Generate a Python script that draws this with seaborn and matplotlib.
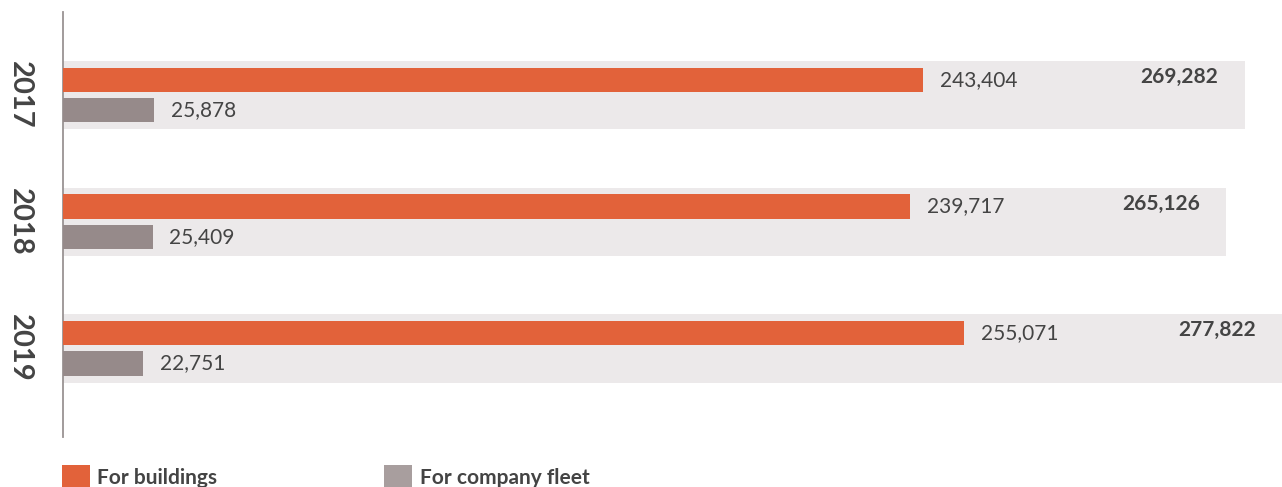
import pandas as pd
import seaborn as sns
import matplotlib.pyplot as plt
from matplotlib.patches import Patch

years = ['2017', '2018', '2019']
buildings = [243404, 239717, 255071]
fleet = [25878, 25409, 22751]
totals = [269282, 265126, 277822]
series = ['For buildings', 'For company fleet']

orange = '#E2623A'
grey = '#968A8A'
grey_legend = '#A89E9E'
band = '#ECE9EA'
txt = '#444444'

sns.set_theme(style='white')
plt.rcParams['font.family'] = ['Lato', 'DejaVu Sans']

df = pd.DataFrame({'year': years * 2,
                   'value': buildings + fleet,
                   'type': [series[0]] * 3 + [series[1]] * 3})

fig = plt.figure(figsize=(12.82, 4.87), dpi=100)
ax = fig.add_axes([63 / 1282, 50 / 487, 1 - 63 / 1282, 425 / 487])

# totals as light background bands
sns.barplot(x=totals, y=years, color=band, saturation=1, width=0.54,
            linewidth=0, ax=ax)
ax.set_xlim(0, max(totals))

# components on their own scale, drawn above the bands
ax2 = ax.twiny()
sns.barplot(data=df, x='value', y='year', hue='type', hue_order=series,
            palette=[orange, grey], saturation=1, width=0.48, gap=0.2,
            linewidth=0, legend=False, ax=ax2)
ax2.set_xlim(0, 345000)
ax.set_ylim(2.70, -0.656)

for cont, vals in zip(ax2.containers, [buildings, fleet]):
    ax2.bar_label(cont, labels=[f'{v:,}' for v in vals], padding=12,
                  fontsize=15, color=txt)

for i, t in enumerate(totals):
    ax.annotate(f'{t:,}', xy=(t, i), xytext=(-19, 13), textcoords='offset points',
                ha='right', va='center', fontsize=15, fontweight='bold', color=txt)

for a in (ax, ax2):
    a.set_xticks([])
    a.set_xlabel('')
    a.set_ylabel('')
    for s in a.spines.values():
        s.set_visible(False)
ax.spines['left'].set_visible(True)
ax.spines['left'].set_color('#9A9393')
ax.spines['left'].set_linewidth(1.3)

ax.tick_params(axis='y', length=0, pad=22)
for lab in ax.get_yticklabels():
    lab.set_rotation(270)
    lab.set_fontsize(21)
    lab.set_fontweight('bold')
    lab.set_color(txt)
    lab.set_va('center')
    lab.set_ha('right')

handles = [Patch(facecolor=orange, linewidth=0, label=series[0]),
           Patch(facecolor=grey_legend, linewidth=0, label=series[1])]
fig.legend(handles=handles, loc='center left', bbox_to_anchor=(62 / 1282, 10 / 487),
           ncol=2, frameon=False, prop={'size': 15, 'weight': 'bold'},
           labelcolor=txt, handlelength=1.35, handleheight=1.35,
           handletextpad=0.35, columnspacing=8, borderpad=0, borderaxespad=0)

fig.savefig('out.png', dpi=100)
